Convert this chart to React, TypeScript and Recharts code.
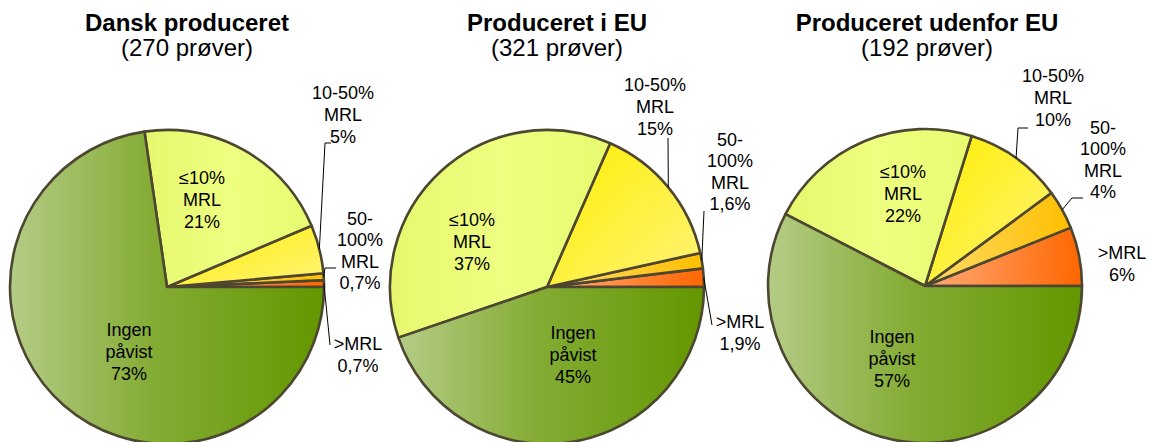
import { PieChart, Pie, Cell } from 'recharts'

// slice order follows the chart: counter-clockwise from 3 o'clock
const CATEGORIES = ['>MRL', '50-\n100%\nMRL', '10-50%\nMRL', '≤10%\nMRL', 'Ingen\npåvist']
const CATEGORY_KEYS = ['over', 'mrl50', 'mrl10', 'under10', 'ingen']

const DANSK = [0.7, 0.7, 5, 21, 73]
const EU = [1.9, 1.6, 15, 37, 45]
const UDENFOR = [6, 4, 10, 22, 57]

const TITLES = ['Dansk produceret', 'Produceret i EU', 'Produceret udenfor EU']
const SAMPLES = [270, 321, 192]

const RADIAN = Math.PI / 180
const R = 157
const FONT = '"Liberation Sans", Arial, sans-serif'
const LINE_H = 21.6

type Pt = [number, number]
interface LabelSpot { at: Pt; line?: Pt[] }
interface PieLayout { cx: number; cy: number; titleX: number; labels: LabelSpot[] }

// label placement relative to each pie centre
const LAYOUT: PieLayout[] = [
  {
    cx: 167, cy: 287, titleX: 187,
    labels: [
      { at: [191, 68], line: [[163, 58]] },
      { at: [193, -36], line: [[158, -19], [169, -19]] },
      { at: [176, -172], line: [[158, -144], [164, -144]] },
      { at: [35, -87] },
      { at: [-38, 65] },
    ],
  },
  {
    cx: 547, cy: 287, titleX: 557,
    labels: [
      { at: [193, 46], line: [[165, 38]] },
      { at: [183, -115], line: [[157, -76]] },
      { at: [108, -180], line: [[121, -149]] },
      { at: [-75, -45] },
      { at: [26, 68] },
    ],
  },
  {
    cx: 925, cy: 286, titleX: 927,
    labels: [
      { at: [197, -22] },
      { at: [178, -126], line: [[147, -88], [158, -88]] },
      { at: [128, -188], line: [[93, -158], [103, -158]] },
      { at: [-22, -92] },
      { at: [-33, 73] },
    ],
  },
]

const fmt = (v: number) => `${String(v).replace('.', ',')}%`

function makeLabel(layout: PieLayout) {
  return (props: any) => {
    const { cx, cy, midAngle, outerRadius, index, value } = props
    const spot = layout.labels[index]
    const lines = [...CATEGORIES[index].split('\n'), fmt(value)]
    const tx = cx + spot.at[0]
    const ty = cy + spot.at[1] - ((lines.length - 1) * LINE_H) / 2
    let path = ''
    if (spot.line) {
      const ex = cx + outerRadius * Math.cos(-midAngle * RADIAN)
      const ey = cy + outerRadius * Math.sin(-midAngle * RADIAN)
      path = `M${ex},${ey}` + spot.line.map(p => `L${cx + p[0]},${cy + p[1]}`).join('')
    }
    return (
      <g key={`lbl-${index}`}>
        {path && <path d={path} stroke="#000" strokeWidth={1} fill="none" />}
        <text
          x={tx}
          y={ty}
          textAnchor="middle"
          dominantBaseline="central"
          fontFamily={FONT}
          fontSize={18}
          fill="#000"
        >
          {lines.map((l, i) => (
            <tspan key={i} x={tx} dy={i === 0 ? 0 : LINE_H}>{l}</tspan>
          ))}
        </text>
      </g>
    )
  }
}

const SERIES = [DANSK, EU, UDENFOR]

export default function App() {
  return (
    <div style={{ position: 'absolute', left: 0, top: 0, width: 1150, height: 442, background: '#fff' }}>
      <PieChart width={1150} height={442} margin={{ top: 0, right: 0, bottom: 0, left: 0 }}>
        <defs>
          <linearGradient id="g-ingen" x1="0" y1="0" x2="1" y2="0">
            <stop offset="0" stopColor="#b4cc86" />
            <stop offset="0.45" stopColor="#84ac35" />
            <stop offset="1" stopColor="#639700" />
          </linearGradient>
          <linearGradient id="g-under10" x1="0" y1="0" x2="1" y2="0">
            <stop offset="0" stopColor="#e6f76e" />
            <stop offset="0.5" stopColor="#eefe80" />
            <stop offset="1" stopColor="#e8fa70" />
          </linearGradient>
          <linearGradient id="g-mrl10" x1="0" y1="0" x2="1" y2="1">
            <stop offset="0" stopColor="#ffee00" />
            <stop offset="1" stopColor="#fff37a" />
          </linearGradient>
          <linearGradient id="g-mrl50" x1="0" y1="0" x2="1" y2="0">
            <stop offset="0" stopColor="#ffdb6a" />
            <stop offset="1" stopColor="#ffbf00" />
          </linearGradient>
          <linearGradient id="g-over" x1="0" y1="0" x2="1" y2="0">
            <stop offset="0" stopColor="#ffab7a" />
            <stop offset="1" stopColor="#ff6600" />
          </linearGradient>
        </defs>

        {TITLES.map((t, i) => (
          <text key={`t-${i}`} x={LAYOUT[i].titleX} y={31} textAnchor="middle" fontFamily={FONT} fontSize={24} fontWeight="bold" fill="#000">
            {t}
          </text>
        ))}
        {SAMPLES.map((n, i) => (
          <text key={`s-${i}`} x={LAYOUT[i].titleX} y={56} textAnchor="middle" fontFamily={FONT} fontSize={24} fill="#000">
            {`(${n} prøver)`}
          </text>
        ))}

        {SERIES.map((values, si) => {
          const data = values.map((v, i) => ({ name: CATEGORIES[i], value: v }))
          const layout = LAYOUT[si]
          return (
            <Pie
              key={`pie-${si}`}
              data={data}
              dataKey="value"
              nameKey="name"
              cx={layout.cx}
              cy={layout.cy}
              outerRadius={R}
              startAngle={0}
              endAngle={360}
              stroke="#4d4630"
              strokeWidth={2.6}
              strokeLinejoin="round"
              label={makeLabel(layout)}
              labelLine={false}
              isAnimationActive={false}
            >
              {data.map((_, i) => (
                <Cell key={i} fill={`url(#g-${CATEGORY_KEYS[i]})`} />
              ))}
            </Pie>
          )
        })}
      </PieChart>
    </div>
  )
}
